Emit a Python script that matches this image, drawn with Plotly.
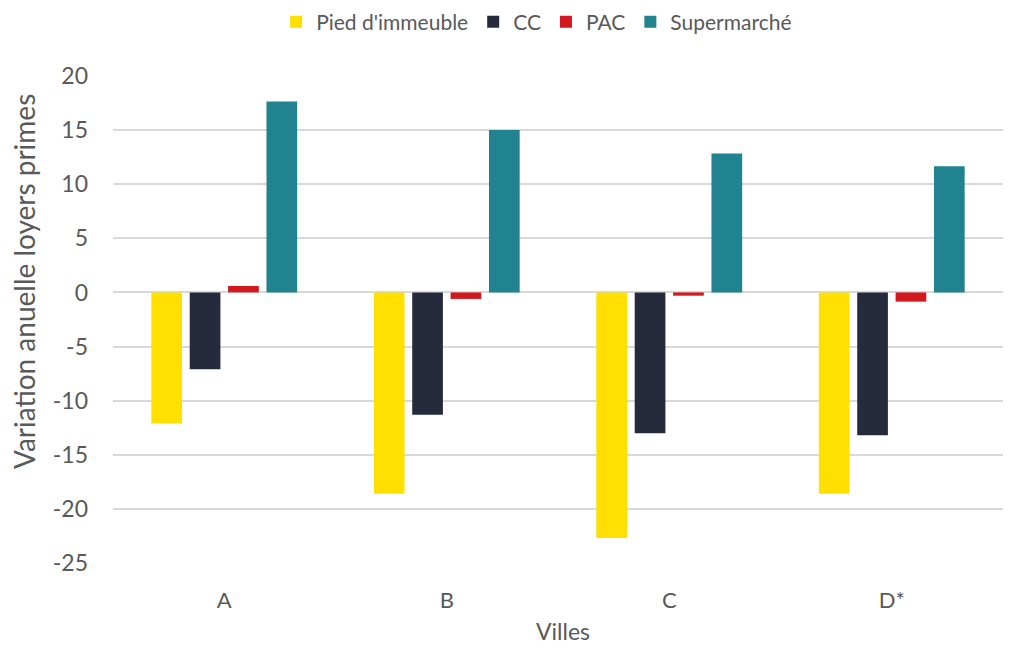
import plotly.graph_objects as go

villes = ['A', 'B', 'C', 'D*']
pied = [-12.1, -18.6, -22.7, -18.6]
cc = [-7.1, -11.3, -13.0, -13.2]
pac = [0.6, -0.6, -0.3, -0.85]
supermarche = [17.65, 15.0, 12.85, 11.65]

y_ticks = [20, 15, 10, 5, 0, -5, -10, -15, -20, -25]
y_ticklabels = ['20', '15', '10', '5', '0', '-5', '-10', '-15', '-20', '-25']

series = [('Pied d\'immeuble', pied, '#FFE000'),
          ('CC', cc, '#262A3D'),
          ('PAC', pac, '#D2191E'),
          ('Supermarché', supermarche, '#218390')]

fig = go.Figure()
for name, vals, col in series:
    fig.add_trace(go.Bar(x=villes, y=vals, name=name, marker=dict(color=col, line=dict(width=0))))

font_main = 'Lato, Noto Sans, sans-serif'
grey = '#595959'

fig.update_layout(
    barmode='group',
    bargap=0.31,
    bargroupgap=0.2,
    autosize=True,
    margin=dict(l=105, r=0, t=68, b=84),
    plot_bgcolor='white',
    paper_bgcolor='white',
    font=dict(family=font_main, color=grey, size=20),
    legend=dict(orientation='h', x=0.476, xanchor='center', yref='container', y=0.978, yanchor='middle',
                font=dict(size=21, color=grey), traceorder='normal'),
    xaxis=dict(tickfont=dict(size=22), showgrid=False, showline=False, ticks='',
               ticklabelstandoff=22, automargin=False),
    yaxis=dict(range=[-25, 20], tickvals=y_ticks, ticktext=y_ticklabels, tickfont=dict(size=23),
               gridcolor='#d9d9d9', gridwidth=1.5, zeroline=True, zerolinecolor='#d9d9d9',
               zerolinewidth=1.5, showline=False, ticks='', ticklabelstandoff=24, automargin=False),
)

# axis titles as annotations (the y title sits above centre in the original)
fig.add_annotation(text='Variation anuelle loyers primes', textangle=-90,
                   xref='paper', yref='paper', x=-0.1, y=0.577,
                   xanchor='center', yanchor='middle', showarrow=False,
                   font=dict(size=28, color=grey))
fig.add_annotation(text='Villes', xref='paper', yref='paper', x=0.506, y=-0.14,
                   xanchor='center', yanchor='middle', showarrow=False,
                   font=dict(size=23, color=grey))

fig.write_html("out.html")
